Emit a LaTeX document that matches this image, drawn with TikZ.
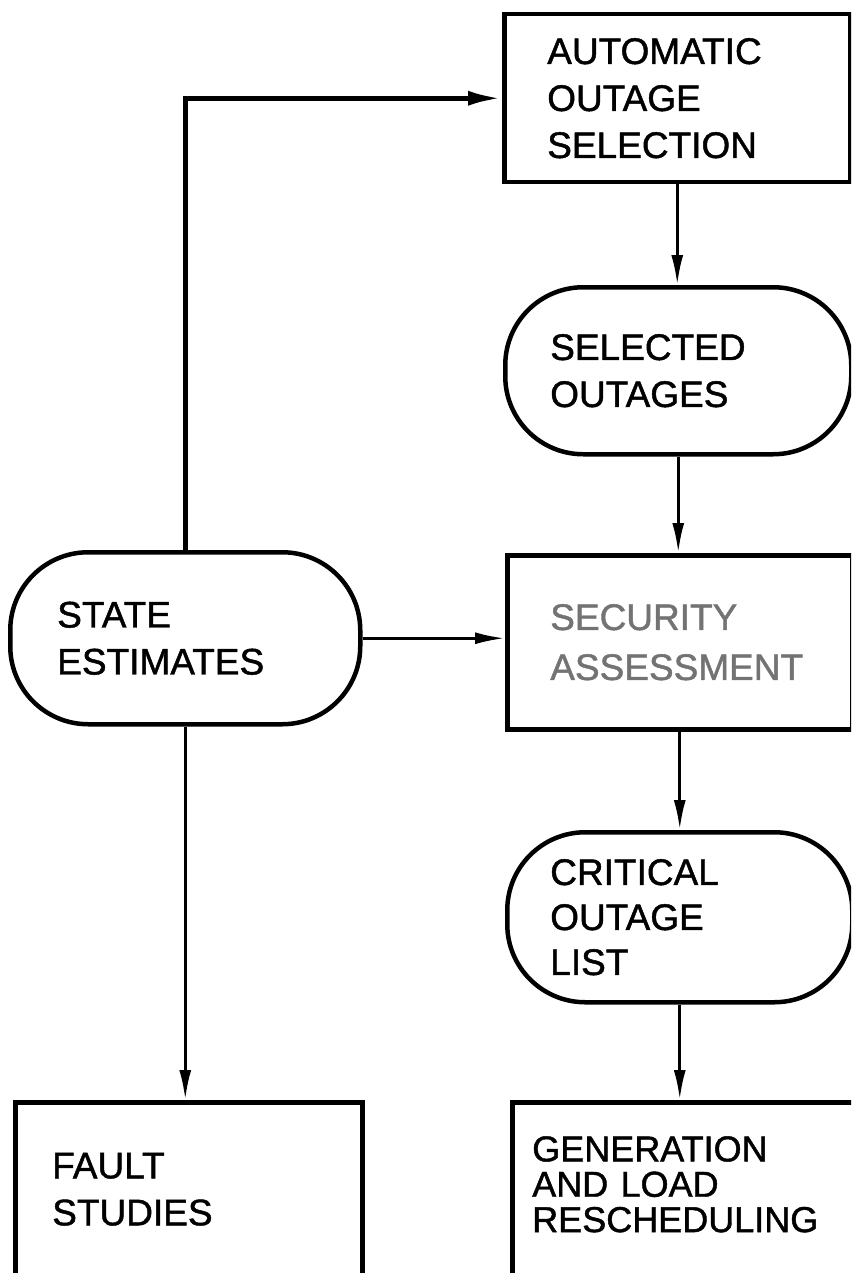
\documentclass[tikz,border=0pt]{standalone}
\usepackage{fontspec}
\setmainfont{Liberation Sans}[FakeBold=1.2]
\usetikzlibrary{arrows.meta}
\begin{document}
\begin{tikzpicture}[x=1pt,y=-1pt,
  box/.style={draw, line width=4.5pt, rectangle, anchor=north west, inner ysep=0pt,
    align=left, font=\fontsize{37}{47}\selectfont},
  term/.style={box, rounded corners=78pt},
  flow/.style={line width=3pt, -{Latex[length=30pt,width=12pt]}},
  feed/.style={line width=5pt, -{Latex[length=34pt,width=15pt]}},
]
\useasboundingbox (0,0) rectangle (851,1273);
\clip (0,0) rectangle (851,1273);

\node[box, minimum width=346pt, minimum height=168pt, text width=260pt, inner xsep=43pt]
  (aos) at (502,12) {AUTOMATIC\\OUTAGE\\SELECTION};
\node[term, minimum width=346pt, minimum height=167pt, text width=256pt, inner xsep=45pt]
  (so) at (503,285) {SELECTED\\OUTAGES};
\node[box, minimum width=345pt, minimum height=174pt, text width=259pt, inner xsep=43pt,
  text=black!55, font=\fontsize{37}{50}\selectfont]
  (sa) at (505,553) {SECURITY\\ASSESSMENT};
\node[term, minimum width=350pt, minimum height=172pt, text width=256pt, inner xsep=47pt]
  (se) at (8,550) {STATE\\ESTIMATES};
\node[term, minimum width=345pt, minimum height=170pt, text width=259pt, inner xsep=43pt,
  font=\fontsize{37}{45}\selectfont]
  (col) at (505,830) {CRITICAL\\OUTAGE\\LIST};
\node[box, minimum width=347pt, minimum height=174pt, text width=273pt, inner xsep=37pt]
  (fs) at (13,1100) {FAULT\\STUDIES};
\node[box, minimum width=350pt, minimum height=174pt, text width=310pt, inner xsep=20pt]
  (gen) at (510,1100) {\raisebox{11pt}{\fontsize{36}{34}\selectfont\begin{tabular}{@{}l@{}}GENERATION\\AND LOAD\\RESCHEDULING\end{tabular}}};

\draw[feed] (se.north) |- (aos.west);
\draw[flow] (aos.south) -- (aos.south |- so.north);
\draw[flow] (so.south) -- (so.south |- sa.north);
\draw[flow] (se.east) -- (se.east -| sa.west);
\draw[flow] (sa.south) -- (sa.south |- col.north);
\draw[flow] (col.south) -- (col.south |- gen.north);
\draw[flow] (se.south) -- (se.south |- fs.north);
\end{tikzpicture}
\end{document}
